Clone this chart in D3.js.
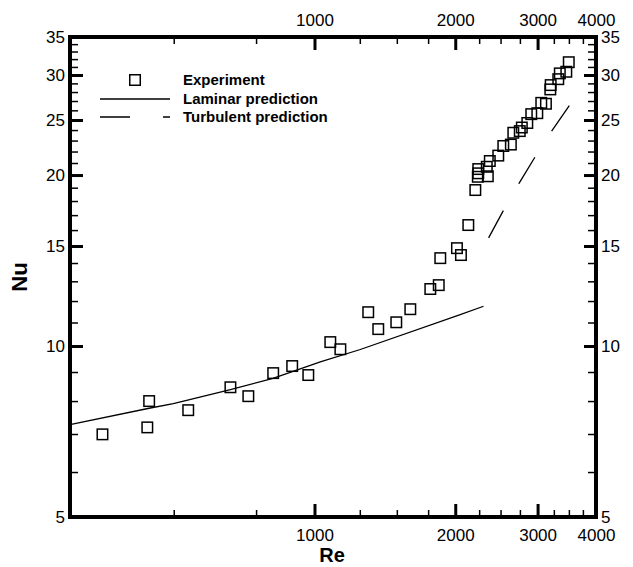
<!DOCTYPE html>
<html>
<head>
<meta charset="utf-8">
<script src="https://cdn.jsdelivr.net/npm/d3@7/dist/d3.min.js"></script>
<style>
  body { margin: 0; background: #fff; }
  svg { display: block; font-family: "Liberation Sans", Arial, sans-serif; }
</style>
</head>
<body>
<div id="chart"></div>
<script>
// Experimental points (Re, Nu)
const expRe = [352, 439, 443, 537, 661, 722, 816, 896, 970, 1081, 1136, 1303, 1369, 1496, 1603,
  1769, 1844, 1858, 2017, 2057, 2133, 2208, 2235, 2240, 2240, 2348, 2336, 2371, 2472, 2534,
  2630, 2662, 2748, 2776, 2852, 2908, 2996, 3055, 3126, 3194, 3200, 3322, 3347, 3456, 3498];
const expNu = [6.99, 7.19, 8.00, 7.71, 8.46, 8.16, 8.96, 9.22, 8.89, 10.16, 9.87, 11.47, 10.71, 11.01, 11.61,
  12.6, 12.8, 14.28, 14.87, 14.46, 16.33, 18.82, 19.86, 20.14, 20.49, 19.9, 20.68, 21.17, 21.64, 22.5,
  22.63, 23.74, 23.9, 24.25, 24.7, 25.6, 25.7, 26.8, 26.7, 28.3, 28.8, 29.5, 30.2, 30.4, 31.6];

// Laminar prediction
const lamRe = [300, 443, 499, 661, 815, 1029, 1253, 2050, 2299];
const lamNu = [7.27, 7.77, 7.92, 8.38, 8.77, 9.38, 9.86, 11.36, 11.75];

// Turbulent prediction
const turbRe = [2357, 2538, 2744, 2971, 3226, 3519];
const turbNu = [15.5, 17.35, 19.4, 21.6, 24.0, 26.6];

// Ticks
const xMajor = [1000, 2000, 3000, 4000];
const xMinor = [500, 750, 1250, 1500, 1750, 2250, 2500, 2750, 3250, 3500, 3750];
const yMajor = [5, 10, 15, 20, 25, 30, 35];
const yMinor = [6, 7, 8, 9, 11, 12, 13, 14, 16, 17, 18, 19, 21, 22, 23, 24, 26, 27, 28, 29, 31, 32, 33, 34];

const legendItems = ["Experiment", "Laminar prediction", "Turbulent prediction"];

const width = 633, height = 567;
const plotL = 70, plotR = 596, plotT = 37, plotB = 517;

const svg = d3.select("#chart").append("svg")
  .attr("width", width)
  .attr("height", height);

const x = d3.scaleLog().domain([300, 4000]).range([plotL, plotR]);
const y = d3.scaleLog().domain([5, 35]).range([plotB, plotT]);

const fmt = d => String(d);

function styleAxis(g, fontSize) {
  g.select(".domain").remove();
  g.selectAll("line").attr("stroke", "#000");
  g.selectAll("text").attr("font-size", fontSize).attr("fill", "#000")
    .attr("font-family", "'Liberation Sans', Arial, sans-serif");
}

// major ticks with labels
svg.append("g").attr("transform", `translate(0,${plotB})`)
  .call(d3.axisBottom(x).tickValues(xMajor).tickFormat(fmt).tickSize(-13).tickPadding(12))
  .call(g => styleAxis(g, 17))
  .selectAll("line").attr("stroke-width", 3);
svg.append("g").attr("transform", `translate(0,${plotT})`)
  .call(d3.axisTop(x).tickValues(xMajor).tickFormat(fmt).tickSize(-13).tickPadding(11))
  .call(g => styleAxis(g, 17))
  .selectAll("line").attr("stroke-width", 3);
svg.append("g").attr("transform", `translate(${plotL},0)`)
  .call(d3.axisLeft(y).tickValues(yMajor).tickFormat(fmt).tickSize(-13).tickPadding(5))
  .call(g => styleAxis(g, 17))
  .selectAll("line").attr("stroke-width", 3);
svg.append("g").attr("transform", `translate(${plotR},0)`)
  .call(d3.axisRight(y).tickValues(yMajor).tickFormat(fmt).tickSize(-12).tickPadding(5))
  .call(g => styleAxis(g, 17))
  .selectAll("line").attr("stroke-width", 3);

// minor ticks
const noLabel = () => "";
svg.append("g").attr("transform", `translate(0,${plotB})`)
  .call(d3.axisBottom(x).tickValues(xMinor).tickFormat(noLabel).tickSize(-7))
  .call(g => styleAxis(g, 0))
  .selectAll("line").attr("stroke-width", 1.5);
svg.append("g").attr("transform", `translate(0,${plotT})`)
  .call(d3.axisTop(x).tickValues(xMinor).tickFormat(noLabel).tickSize(-7))
  .call(g => styleAxis(g, 0))
  .selectAll("line").attr("stroke-width", 1.5);
svg.append("g").attr("transform", `translate(${plotL},0)`)
  .call(d3.axisLeft(y).tickValues(yMinor).tickFormat(noLabel).tickSize(-8))
  .call(g => styleAxis(g, 0))
  .selectAll("line").attr("stroke-width", 1.5);
svg.append("g").attr("transform", `translate(${plotR},0)`)
  .call(d3.axisRight(y).tickValues(yMinor).tickFormat(noLabel).tickSize(-8))
  .call(g => styleAxis(g, 0))
  .selectAll("line").attr("stroke-width", 1.5);

// frame
svg.append("rect")
  .attr("x", plotL).attr("y", plotT)
  .attr("width", plotR - plotL).attr("height", plotB - plotT)
  .attr("fill", "none").attr("stroke", "#000").attr("stroke-width", 4);

// lines
const line = d3.line().x(d => x(d[0])).y(d => y(d[1]));

svg.append("path")
  .datum(d3.zip(lamRe, lamNu))
  .attr("d", line)
  .attr("fill", "none").attr("stroke", "#000").attr("stroke-width", 1.3);

svg.append("path")
  .datum(d3.zip(turbRe, turbNu))
  .attr("d", line)
  .attr("fill", "none").attr("stroke", "#000").attr("stroke-width", 1.3)
  .attr("stroke-dasharray", "31,31");

// experiment markers
const sq = 10.5;
svg.append("g").selectAll("rect")
  .data(d3.zip(expRe, expNu))
  .join("rect")
  .attr("x", d => x(d[0]) - sq / 2)
  .attr("y", d => y(d[1]) - sq / 2)
  .attr("width", sq).attr("height", sq)
  .attr("fill", "none").attr("stroke", "#000").attr("stroke-width", 1.5);

// axis titles
svg.append("text")
  .attr("x", 332).attr("y", 562)
  .attr("text-anchor", "middle")
  .attr("font-size", 20).attr("font-weight", "bold")
  .text("Re");
svg.append("text")
  .attr("transform", "translate(27,277) rotate(-90)")
  .attr("text-anchor", "middle")
  .attr("font-size", 22).attr("font-weight", "bold")
  .text("Nu");

// legend
const legend = svg.append("g");
const rowY = [80, 99, 117];
legend.append("rect")
  .attr("x", 135 - sq / 2).attr("y", rowY[0] - sq / 2)
  .attr("width", sq).attr("height", sq)
  .attr("fill", "none").attr("stroke", "#000").attr("stroke-width", 1.5);
legend.append("line")
  .attr("x1", 100).attr("x2", 170).attr("y1", rowY[1]).attr("y2", rowY[1])
  .attr("stroke", "#000").attr("stroke-width", 1.3);
legend.append("line")
  .attr("x1", 100).attr("x2", 170).attr("y1", rowY[2]).attr("y2", rowY[2])
  .attr("stroke", "#000").attr("stroke-width", 1.3)
  .attr("stroke-dasharray", "30,33");
legend.selectAll("text.leg")
  .data(legendItems)
  .join("text")
  .attr("class", "leg")
  .attr("x", 183)
  .attr("y", (d, i) => rowY[i] + 5)
  .attr("font-size", 15).attr("font-weight", "bold")
  .text(d => d);
</script>
</body>
</html>
